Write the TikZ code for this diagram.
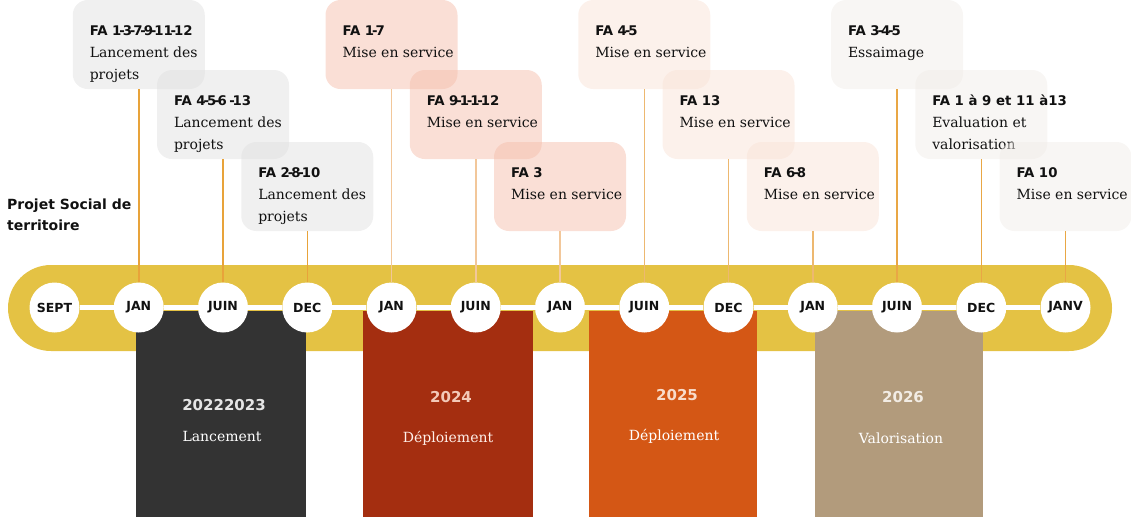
\documentclass[tikz,border=0pt]{standalone}
\usepackage{fontspec}
\setmainfont{DejaVu Serif}
\newfontfamily\sansfam{DejaVu Sans}
\definecolor{bandc}{HTML}{E4C244}
\definecolor{blkgray}{HTML}{333333}
\definecolor{blkred}{HTML}{A42E10}
\definecolor{blkorange}{HTML}{D45715}
\definecolor{blktan}{HTML}{B29B7C}
\definecolor{boxgray}{RGB}{225,225,225}
\definecolor{boxpink}{RGB}{245,191,173}
\definecolor{boxpeach}{RGB}{249,227,215}
\definecolor{boxlight}{RGB}{241,237,233}
\definecolor{lineA}{HTML}{E8A33A}
\definecolor{lineB}{HTML}{F2C79A}
\definecolor{lineC}{HTML}{EDB870}
\definecolor{lineD}{HTML}{E9A745}
\definecolor{txt}{HTML}{111111}
\newcommand\hy{\kern-0.16em-\kern-0.16em}
\newcommand\mkbox[7]{%
  \node[callout,#4] (#1) at (#2,#3) {};
  \node[head] (#1h) at ([shift={(17,36)}]#1.north west) {#5};
  \node[body] (#1a) at ([shift={(17,58)}]#1.north west) {#6};
  \node[body] (#1b) at ([shift={(17,80)}]#1.north west) {#7};
}
\begin{document}
\begin{tikzpicture}[x=1pt,y=-1pt,
  callout/.style={rounded corners=15, minimum width=132, minimum height=89, inner sep=0, draw=none, fill opacity=0.5},
  cgray/.style={fill=boxgray},
  cpink/.style={fill=boxpink},
  cpeach/.style={fill=boxpeach},
  clight/.style={fill=boxlight},
  head/.style={font=\sansfam\bfseries\fontsize{13.3}{15}\selectfont, text=txt, inner sep=0, anchor=base west},
  body/.style={font=\fontsize{14}{16}\selectfont, text=txt, inner sep=0, anchor=base west},
  month/.style={circle, fill=white, minimum size=50, inner sep=0, text=txt, font=\sansfam\bfseries\fontsize{12.5}{14}\selectfont},
  conn/.style={line width=1.5},
  wline/.style={white, line width=5},
  block/.style={minimum height=206, inner sep=0, draw=none},
  year/.style={font=\sansfam\bfseries\fontsize{15}{17}\selectfont, inner sep=0},
  phase/.style={font=\fontsize{14}{16}\selectfont, inner sep=0},
  side/.style={font=\sansfam\bfseries\fontsize{14}{16}\selectfont, text=txt, inner sep=0, anchor=base west}
]
\useasboundingbox (0,0) rectangle (1131,517);

% band
\node[fill=bandc, rounded corners=43, minimum width=1104, minimum height=86, inner sep=0] (band) at (560,308) {};

% colored blocks
\node[block, fill=blkgray, minimum width=170] (b1) at (221,414) {};
\node[block, fill=blkred, minimum width=170] (b2) at (448,414) {};
\node[block, fill=blkorange, minimum width=168] (b3) at (673,414) {};
\node[block, fill=blktan, minimum width=168] (b4) at (899,414) {};

\node[year, text=black!10] (y1) at (224,405) {20222023};
\node[phase, text=white] (p1) at (222,436) {Lancement};
\node[year, text={rgb,255:red,243;green,201;blue,184}] (y2) at (451,397) {2024};
\node[phase, text={rgb,255:red,255;green,240;blue,234}] (p2) at (448,438) {Déploiement};
\node[year, text={rgb,255:red,248;green,220;blue,203}] (y3) at (677,395) {2025};
\node[phase, text=white] (p3) at (674,436) {Déploiement};
\node[year, text={rgb,255:red,242;green,236;blue,228}] (y4) at (903,397) {2026};
\node[phase, text=white] (p4) at (901,438) {Valorisation};

% month circles
\node[month] (m0) at (54.5,307.5) {SEPT};
\node[month] (m1) at (138.75,307.5) {JAN};
\node[month] (m2) at (223,307.5) {JUIN};
\node[month] (m3) at (307.25,307.5) {DEC};
\node[month] (m4) at (391.5,307.5) {JAN};
\node[month] (m5) at (475.75,307.5) {JUIN};
\node[month] (m6) at (560,307.5) {JAN};
\node[month] (m7) at (644.25,307.5) {JUIN};
\node[month] (m8) at (728.5,307.5) {DEC};
\node[month] (m9) at (812.75,307.5) {JAN};
\node[month] (m10) at (897,307.5) {JUIN};
\node[month] (m11) at (981.25,307.5) {DEC};
\node[month] (m12) at (1065.5,307.5) {JANV};
\foreach \a/\b in {m0/m1,m1/m2,m2/m3,m3/m4,m4/m5,m5/m6,m6/m7,m7/m8,m8/m9,m9/m10,m10/m11,m11/m12}
  \draw[wline] (\a) -- (\b);

% callout boxes
\mkbox{c1}{138.75}{44.5}{cgray}{FA 1\hy3\hy7\hy9\hy11\hy12}{Lancement des}{projets}
\mkbox{c2}{223}{114.5}{cgray}{FA 4\hy5\hy6 \hy13}{Lancement des}{projets}
\mkbox{c3}{307.25}{186.5}{cgray}{FA 2\hy8\hy10}{Lancement des}{projets}
\mkbox{c4}{391.5}{44.5}{cpink}{FA 1\hy7}{Mise en service}{}
\mkbox{c5}{475.75}{114.5}{cpink}{FA 9\hy1\hy1\hy12}{Mise en service}{}
\mkbox{c6}{560}{186.5}{cpink}{FA 3}{Mise en service}{}
\mkbox{c7}{644.25}{44.5}{cpeach}{FA 4\hy5}{Mise en service}{}
\mkbox{c8}{728.5}{114.5}{cpeach}{FA 13}{Mise en service}{}
\mkbox{c9}{812.75}{186.5}{cpeach}{FA 6\hy8}{Mise en service}{}
\mkbox{c10}{897}{44.5}{clight}{FA 3\hy4\hy5}{Essaimage}{}
\mkbox{c11}{981.25}{114.5}{clight}{FA 1 à 9 et 11 à13}{Evaluation et}{valorisation}
\mkbox{c12}{1065.5}{186.5}{clight}{FA 10}{Mise en service}{}

% connectors
\draw[conn, lineA] (m1) -- (c1);
\draw[conn, lineA] (m2) -- (c2);
\draw[conn, lineA] (m3) -- (c3);
\draw[conn, lineB] (m4) -- (c4);
\draw[conn, lineB] (m5) -- (c5);
\draw[conn, lineB] (m6) -- (c6);
\draw[conn, lineC] (m7) -- (c7);
\draw[conn, lineC] (m8) -- (c8);
\draw[conn, lineC] (m9) -- (c9);
\draw[conn, lineD] (m10) -- (c10);
\draw[conn, lineD] (m11) -- (c11);
\draw[conn, lineD] (m12) -- (c12);

% side label
\node[side] (s1) at (7,209) {Projet Social de};
\node[side] (s2) at (7,230) {territoire};
\end{tikzpicture}
\end{document}
